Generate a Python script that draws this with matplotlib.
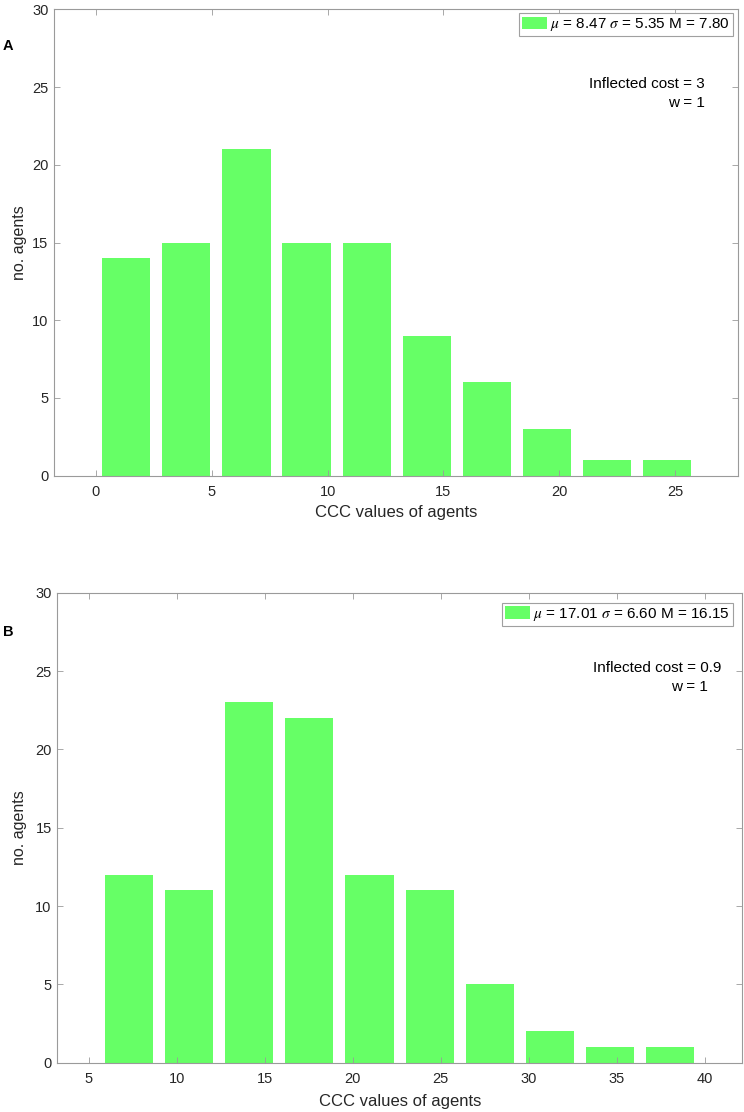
# Histograms of CCC values for two inflected-cost settings

from matplotlib import pyplot as plt

plt.rcParams['font.family'] = ['Liberation Sans', 'DejaVu Sans']
plt.rcParams['mathtext.fontset'] = 'stix'

# panel A data (inflected cost = 3)
centers_a = [1.31, 3.90, 6.50, 9.09, 11.69, 14.28, 16.87, 19.47, 22.06, 24.66]
counts_a = [14, 15, 21, 15, 15, 9, 6, 3, 1, 1]
binw_a = 2.594
legend_a = r'$\mu$ = 8.47 $\sigma$ = 5.35 M = 7.80'

# panel B data (inflected cost = 0.9)
centers_b = [7.31, 10.72, 14.13, 17.54, 20.95, 24.36, 27.77, 31.18, 34.59, 38.00]
counts_b = [12, 11, 23, 22, 12, 11, 5, 2, 1, 1]
binw_b = 3.41
legend_b = r'$\mu$ = 17.01 $\sigma$ = 6.60 M = 16.15'

green = '#66ff66'
axis_gray = '#9a9a9a'
text_col = '#262626'

fig = plt.figure(figsize=(7.44, 11.12), dpi=100)
W, H = 744, 1112


def add_panel(box, centers, counts, binw, xlim, xticks, leg, leg_anchor,
              lines, label, label_xy, xlab_y, ylab_x):
    l, t, r, b = box
    ax = fig.add_axes([l / W, 1 - b / H, (r - l) / W, (b - t) / H])
    bars = ax.bar(centers, counts, width=0.8 * binw, color=green,
                  edgecolor='none', label=leg)
    ax.set_xlim(xlim)
    ax.set_ylim(0, 30)
    ax.set_xticks(xticks)
    ax.set_yticks(range(0, 31, 5))
    for s in ax.spines.values():
        s.set_color(axis_gray)
        s.set_linewidth(0.8)
    ax.tick_params(direction='in', length=4.5, width=0.6, color=axis_gray,
                   top=True, right=True, labelsize=10.5, labelcolor=text_col)
    ax.tick_params(axis='x', pad=7)
    ax.tick_params(axis='y', pad=4)
    ax.set_xlabel('CCC values of agents', fontsize=12, color=text_col)
    ax.set_ylabel('no. agents', fontsize=11.5, color=text_col)
    ax.xaxis.set_label_coords(0.5, xlab_y)
    ax.yaxis.set_label_coords(ylab_x, 0.5)
    ax.xaxis.label.set_va('center')
    ax.yaxis.label.set_va('center')
    lg = ax.legend(handles=[bars], loc='upper right', bbox_to_anchor=leg_anchor,
                   borderaxespad=0, fontsize=11, fancybox=False,
                   edgecolor='#a0a0a0', framealpha=1, handlelength=1.6,
                   handleheight=0.9, handletextpad=0.25, borderpad=0.2)
    lg.get_frame().set_linewidth(0.8)
    for txt, x, y in lines:
        ax.text(x, y, txt, transform=ax.transAxes, ha='right', va='center',
                fontsize=11, color='black')
    fig.text(label_xy[0] / W, 1 - label_xy[1] / H, label, fontsize=10.5,
             fontweight='bold', ha='center', va='center')
    return ax


add_panel((54, 9.3, 738.3, 475.7), centers_a, counts_a, binw_a,
          (-1.81, 27.73), range(0, 26, 5), legend_a, (0.9927, 0.9914),
          [('Inflected cost = 3', 0.9505, 25.2 / 30),
           ('w = 1', 0.9505, 24.0 / 30)],
          'A', (8, 45.5), -0.078, -0.05)

add_panel((57.3, 592.7, 742.3, 1062.7), centers_b, counts_b, binw_b,
          (3.22, 42.12), range(5, 41, 5), legend_b, (0.9869, 0.9787),
          [('Inflected cost = 0.9', 0.9698, 25.2 / 30),
           ('w = 1', 0.9495, 24.0 / 30)],
          'B', (8, 632), -0.083, -0.0545)

fig.savefig('out.png', dpi=100)
